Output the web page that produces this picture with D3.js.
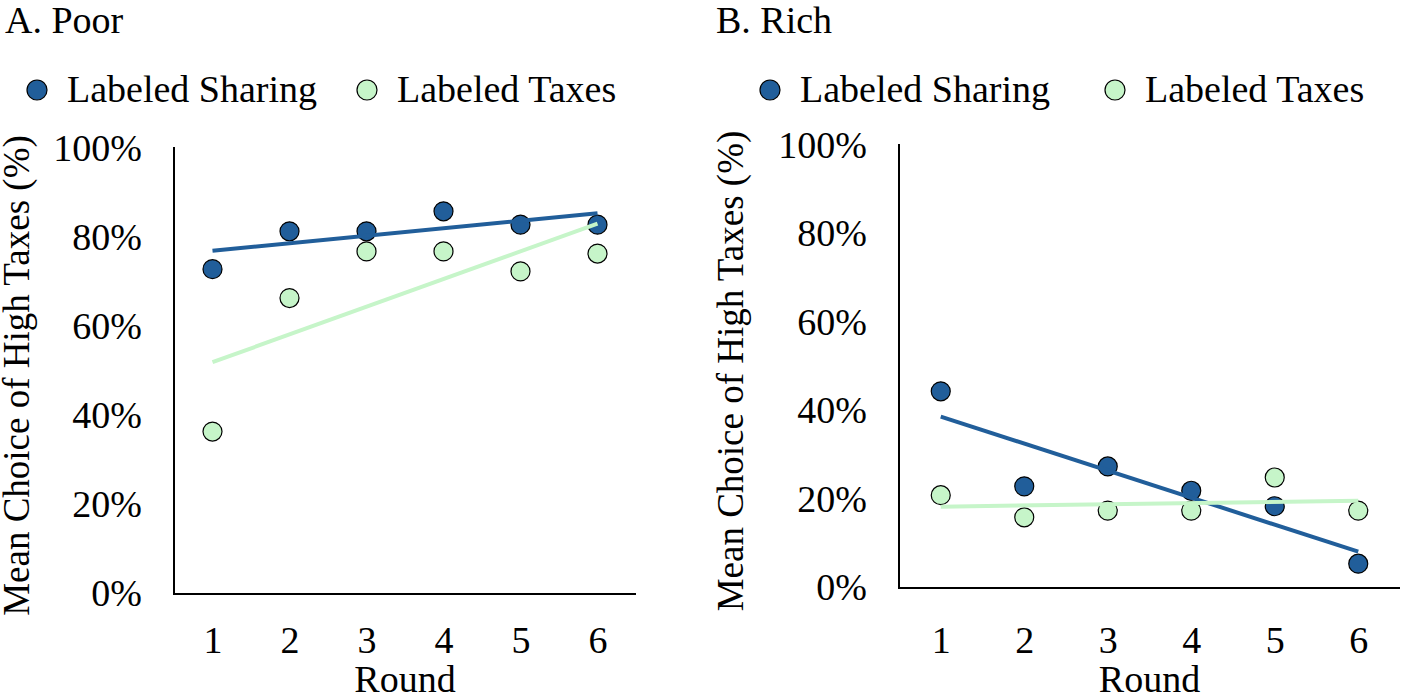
<!DOCTYPE html>
<html>
<head>
<meta charset="utf-8">
<script src="https://cdn.jsdelivr.net/npm/d3@7"></script>
<style>
  body { margin: 0; background: #fff; }
  text { font-family: "Liberation Serif", "Times New Roman", serif; fill: #000; }
</style>
</head>
<body>
<svg id="drawing_region"></svg>
<script>
const rounds = [1, 2, 3, 4, 5, 6];
const seriesNames = ["Labeled Sharing", "Labeled Taxes"];
const yTicks = [0, 20, 40, 60, 80, 100];

const poorSharing = [73, 81.5, 81.5, 86, 83, 83];
const poorTaxes = [36.5, 66.5, 77, 77, 72.5, 76.5];
const richSharing = [44.5, 23, 27.5, 22, 18.5, 5.5];
const richTaxes = [21, 16, 17.5, 17.5, 25, 17.5];

const colors = ["#215e9a", "#c6f5c9"];
const fontSize = 38;

// least squares line, like excel's linear trendline
function linearFit(xs, ys) {
    const mx = d3.mean(xs), my = d3.mean(ys);
    let num = 0, den = 0;
    xs.forEach((x, i) => { num += (x - mx) * (ys[i] - my); den += (x - mx) * (x - mx); });
    const slope = num / den;
    return x => my + slope * (x - mx);
}

class ScatterPanel {
    constructor(config, data) {
        this.config = config;
        this.data = data;
        this.init();
    }

    init() {
        let self = this;
        self.chart = d3.select(self.config.parent).append('g');

        self.xscale = d3.scaleLinear()
            .domain([0.5, 6.5])
            .range([self.config.left, self.config.right]);
        self.yscale = d3.scaleLinear()
            .domain([0, 100])
            .range([self.config.bottom, self.config.top]);
    }

    render() {
        let self = this;
        const c = self.config;

        self.chart.append('text')
            .attr('x', c.titleX).attr('y', 33)
            .attr('font-size', fontSize)
            .text(c.title);

        // legend
        const leg = self.chart.selectAll('g.legend')
            .data(seriesNames)
            .enter().append('g')
            .attr('transform', (d, i) => `translate(${c.legendX[i]}, 90)`);
        leg.append('circle')
            .attr('r', 10)
            .attr('fill', (d, i) => colors[i])
            .attr('stroke', '#000').attr('stroke-width', 1.2);
        leg.append('text')
            .attr('x', 30).attr('y', 12)
            .attr('font-size', fontSize)
            .text(d => d);

        // axes
        const yAxis = d3.axisLeft(self.yscale)
            .tickValues(yTicks)
            .tickFormat(d => d + '%')
            .tickSize(0).tickPadding(32);
        const yg = self.chart.append('g')
            .attr('transform', `translate(${c.left}, 0)`)
            .call(yAxis);
        yg.select('.domain').remove();
        yg.selectAll('text').attr('font-size', fontSize).attr('dy', '0.3em');

        const xAxis = d3.axisBottom(self.xscale)
            .tickValues(rounds)
            .tickFormat(d3.format('d'))
            .tickSize(0).tickPadding(c.xPad);
        const xg = self.chart.append('g')
            .attr('transform', `translate(0, ${c.bottom})`)
            .call(xAxis);
        xg.select('.domain').remove();
        xg.selectAll('text').attr('font-size', fontSize);

        self.chart.append('path')
            .attr('d', `M${c.left},${c.top - 2}V${c.bottom}H${c.right}`)
            .attr('fill', 'none')
            .attr('stroke', '#000').attr('stroke-width', 2);

        self.chart.append('text')
            .attr('x', (c.left + c.right) / 2).attr('y', 692)
            .attr('text-anchor', 'middle')
            .attr('font-size', fontSize)
            .text('Round');

        self.chart.append('text')
            .attr('transform', `translate(${c.yTitleX}, ${(c.top + c.bottom) / 2 + 4}) rotate(-90)`)
            .attr('text-anchor', 'middle')
            .attr('font-size', 37)
            .text('Mean Choice of High Taxes (%)');

        // points
        self.data.forEach((vals, s) => {
            self.chart.append('g').selectAll('circle')
                .data(vals)
                .enter().append('circle')
                .attr('cx', (d, i) => self.xscale(rounds[i]))
                .attr('cy', d => self.yscale(d))
                .attr('r', 9.5)
                .attr('fill', colors[s])
                .attr('stroke', '#000').attr('stroke-width', 1.2);
        });

        // trend lines
        const line = d3.line()
            .x(d => self.xscale(d[0]))
            .y(d => self.yscale(d[1]));
        self.data.forEach((vals, s) => {
            const f = linearFit(rounds, vals);
            const ends = [rounds[0], rounds[rounds.length - 1]].map(x => [x, f(x)]);
            self.chart.append('path')
                .attr('d', line(ends))
                .attr('fill', 'none')
                .attr('stroke', colors[s])
                .attr('stroke-width', 4);
        });
    }
}

d3.select('#drawing_region').attr('width', 1401).attr('height', 696);

const poor = new ScatterPanel({
    parent: '#drawing_region', title: 'A. Poor', titleX: 5,
    left: 174, right: 636, top: 149, bottom: 594, xPad: 32,
    legendX: [37, 367], yTitleX: 29
}, [poorSharing, poorTaxes]);
poor.render();

const rich = new ScatterPanel({
    parent: '#drawing_region', title: 'B. Rich', titleX: 716,
    left: 899, right: 1400, top: 146, bottom: 588, xPad: 38,
    legendX: [770, 1115], yTitleX: 743
}, [richSharing, richTaxes]);
rich.render();
</script>
</body>
</html>
